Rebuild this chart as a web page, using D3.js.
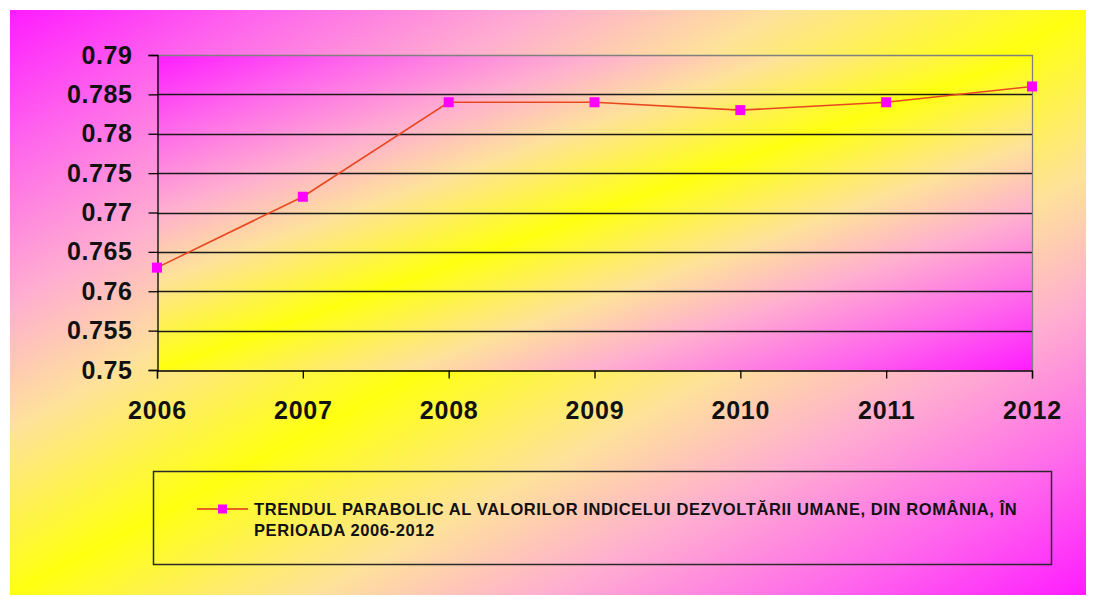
<!DOCTYPE html>
<html>
<head>
<meta charset="utf-8">
<script src="https://cdn.jsdelivr.net/npm/d3@7"></script>
<style>
  html, body { margin: 0; padding: 0; background: #ffffff; }
  svg { display: block; }
  text { font-family: Arial, "Liberation Sans", sans-serif; }
</style>
</head>
<body>
<svg id="chart" width="1094" height="597"></svg>
<script>
const years = ["2006", "2007", "2008", "2009", "2010", "2011", "2012"];
const values = [0.763, 0.772, 0.784, 0.784, 0.783, 0.784, 0.786];
const yTicks = [0.75, 0.755, 0.76, 0.765, 0.77, 0.775, 0.78, 0.785, 0.79];
const yTickLabels = ["0.75", "0.755", "0.76", "0.765", "0.77", "0.775", "0.78", "0.785", "0.79"];
const legendLines = [
  "TRENDUL PARABOLIC AL VALORILOR INDICELUI DEZVOLTĂRII UMANE, DIN ROMÂNIA, ÎN",
  "PERIOADA 2006-2012"
];

const svg = d3.select("#chart");
const defs = svg.append("defs");

function diagGrad(id) {
  const g = defs.append("linearGradient").attr("id", id)
    .attr("x1", 0).attr("y1", 0).attr("x2", 1).attr("y2", 1);
  const stops = [
    [0, "#ff1cff"], [0.12, "#ff66ec"], [0.25, "#ffaed0"], [0.36, "#fee29a"],
    [0.5, "#ffff10"],
    [0.64, "#fee29a"], [0.75, "#ffaed0"], [0.88, "#ff66ec"], [1, "#ff1cff"]
  ];
  stops.forEach(s => g.append("stop").attr("offset", s[0]).attr("stop-color", s[1]));
}
diagGrad("outerGrad");
diagGrad("plotGrad");

// Outer chart area
svg.append("rect").attr("x", 10).attr("y", 10).attr("width", 1076).attr("height", 585)
  .attr("fill", "url(#outerGrad)");

const plot = { left: 157, right: 1032, top: 55, bottom: 370 };

const x = d3.scalePoint().domain(years).range([plot.left, plot.right]);
const y = d3.scaleLinear().domain([0.75, 0.79]).range([plot.bottom, plot.top]);

// Plot area background
svg.append("rect")
  .attr("x", plot.left).attr("y", plot.top)
  .attr("width", plot.right - plot.left).attr("height", plot.bottom - plot.top)
  .attr("fill", "url(#plotGrad)");

// Gridlines
svg.append("g").selectAll("line")
  .data(yTicks.filter(v => v > 0.75 && v < 0.79))
  .join("line")
  .attr("x1", plot.left).attr("x2", plot.right)
  .attr("y1", d => Math.round(y(d)) + 0.5).attr("y2", d => Math.round(y(d)) + 0.5)
  .attr("stroke", "#1a1a1a").attr("stroke-width", 1.3);

// Plot border top & right (grey)
svg.append("path")
  .attr("d", `M${plot.left},${plot.top + 0.5}H${plot.right + 0.5}V${plot.bottom}`)
  .attr("fill", "none").attr("stroke", "#808080").attr("stroke-width", 1.3);

// Y axis
const yAxis = d3.axisLeft(y).tickValues(yTicks)
  .tickFormat((d, i) => yTickLabels[i]).tickSize(9).tickPadding(16);
const gy = svg.append("g").attr("transform", `translate(${plot.left + 0.5},0)`).call(yAxis);
gy.select(".domain").attr("stroke", "#000").attr("stroke-width", 1.3);
gy.selectAll(".tick line").attr("stroke", "#000").attr("stroke-width", 1.3);
gy.selectAll(".tick text")
  .attr("font-family", "Arial, 'Liberation Sans', sans-serif")
  .attr("font-size", 25).attr("font-weight", "bold").attr("fill", "#111")
  .attr("letter-spacing", 0.6);

// X axis
const xAxis = d3.axisBottom(x).tickSize(8).tickPadding(23);
const gx = svg.append("g").attr("transform", `translate(0,${plot.bottom + 0.5})`).call(xAxis);
gx.select(".domain").attr("stroke", "#000").attr("stroke-width", 1.3);
gx.selectAll(".tick line").attr("stroke", "#000").attr("stroke-width", 1.3);
gx.selectAll(".tick text")
  .attr("font-family", "Arial, 'Liberation Sans', sans-serif")
  .attr("font-size", 25).attr("font-weight", "bold").attr("fill", "#111")
  .attr("letter-spacing", 0.8);

// Line
const data = years.map((yr, i) => ({ year: yr, value: values[i] }));
svg.append("path").datum(data)
  .attr("d", d3.line().x(d => x(d.year)).y(d => y(d.value)))
  .attr("fill", "none").attr("stroke", "#e8481f").attr("stroke-width", 1.6);

// Markers
svg.append("g").selectAll("rect").data(data).join("rect")
  .attr("x", d => x(d.year) - 5).attr("y", d => y(d.value) - 5)
  .attr("width", 10).attr("height", 10)
  .attr("fill", "#ff00ff");

// Legend
const lg = svg.append("g");
lg.append("rect").attr("x", 153.5).attr("y", 471.5).attr("width", 898).attr("height", 93)
  .attr("fill", "none").attr("stroke", "#2a2a2a").attr("stroke-width", 1.5);
lg.append("line").attr("x1", 197).attr("x2", 248).attr("y1", 509).attr("y2", 509)
  .attr("stroke", "#e0301f").attr("stroke-width", 1.4);
lg.append("rect").attr("x", 218).attr("y", 504.5).attr("width", 9).attr("height", 9)
  .attr("fill", "#ff00ff");
lg.selectAll("text").data(legendLines).join("text")
  .attr("x", 254).attr("y", (d, i) => 515 + i * 21)
  .attr("font-size", 16.5).attr("font-weight", "bold").attr("fill", "#111")
  .attr("letter-spacing", 0.6)
  .text(d => d);
</script>
</body>
</html>
